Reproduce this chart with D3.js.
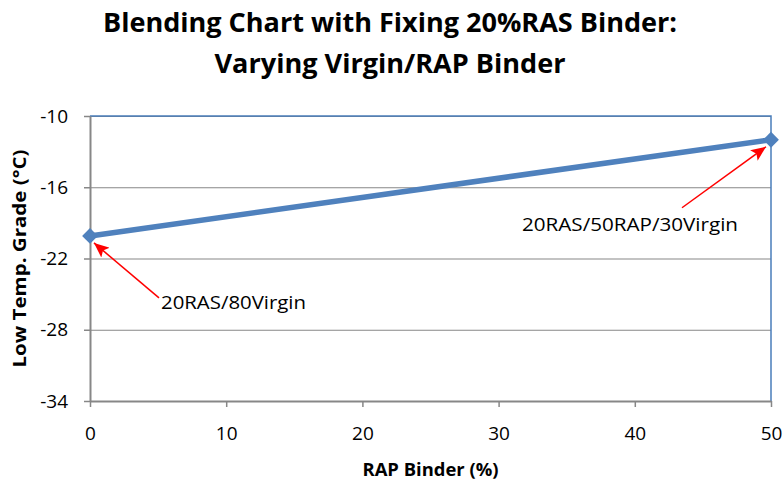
<!DOCTYPE html>
<html>
<head>
<meta charset="utf-8">
<script src="https://cdn.jsdelivr.net/npm/d3@7"></script>
<style>
  body { margin: 0; background: #fff; }
  text { font-family: "Open Sans", sans-serif; fill: #000; }
</style>
</head>
<body>
<div class="container"></div>
<script>
var w = 784;
var h = 487;

// data
var rapBinder = [0, 50];
var lowTempGrade = [-20.1, -12.0];
var xTicks = [0, 10, 20, 30, 40, 50];
var yTicks = [-34, -28, -22, -16, -10];
var titleLines = ["Blending Chart with Fixing 20%RAS Binder:", "Varying Virgin/RAP Binder"];
var xTitle = "RAP Binder (%)";
var yTitle = "Low Temp. Grade (°C)";
var pointLabels = ["20RAS/80Virgin", "20RAS/50RAP/30Virgin"];

var plotL = 90, plotR = 771, plotT = 116, plotB = 401;

var canvas = d3.select(".container").append("svg")
  .attr("width", w)
  .attr("height", h);

var x = d3.scaleLinear().domain([0, 50]).range([plotL, plotR]);
var y = d3.scaleLinear().domain([-34, -10]).range([plotB, plotT]);

// fit text to a measured width
function fit(sel, len) {
  sel.attr("textLength", len).attr("lengthAdjust", "spacingAndGlyphs");
}

// title
var titleWidths = [574, 351];
var titleBase = [32, 72.5];
titleLines.forEach(function (t, i) {
  canvas.append("text")
    .attr("x", 390).attr("y", titleBase[i])
    .attr("text-anchor", "middle")
    .style("font-size", "27px").style("font-weight", "bold")
    .text(t)
    .call(fit, titleWidths[i]);
});

// gridlines
canvas.append("g")
  .attr("transform", "translate(" + plotL + ",0)")
  .call(d3.axisLeft(y).tickValues(yTicks).tickSize(-(plotR - plotL)).tickFormat(""))
  .call(function (g) {
    g.select(".domain").remove();
    g.selectAll("line").attr("stroke", "#878787").attr("stroke-width", 1.2);
  });

// plot border (top/right blue)
canvas.append("path")
  .attr("d", "M" + plotL + "," + plotT + "H" + plotR + "V" + plotB)
  .attr("fill", "none")
  .attr("stroke", "#4a7ebb")
  .attr("stroke-width", 1.5);

// y axis (plain hyphen like the original, not d3's minus sign)
canvas.append("g")
  .attr("transform", "translate(" + plotL + ",0)")
  .call(d3.axisLeft(y).tickValues(yTicks).tickFormat(function (d) { return String(d); })
    .tickSize(6).tickPadding(16).tickSizeOuter(0))
  .call(function (g) {
    g.select(".domain").attr("stroke", "#878787").attr("stroke-width", 2);
    g.selectAll("line").attr("stroke", "#878787").attr("stroke-width", 1.5);
    g.selectAll("text").style("font-size", "19px").style("font-family", "'Open Sans', sans-serif").attr("fill", "#000");
  });

// x axis
canvas.append("g")
  .attr("transform", "translate(0," + plotB + ")")
  .call(d3.axisBottom(x).tickValues(xTicks).tickFormat(function (d) { return String(d); })
    .tickSize(6).tickSizeOuter(0))
  .call(function (g) {
    g.select(".domain").attr("stroke", "#878787").attr("stroke-width", 2);
    g.selectAll("line").attr("stroke", "#878787").attr("stroke-width", 1.5);
    g.selectAll("text").attr("dy", null).attr("y", 39)
      .style("font-size", "19px").style("font-family", "'Open Sans', sans-serif").attr("fill", "#000");
  });

// axis titles
canvas.append("text")
  .attr("x", (plotL + plotR) / 2).attr("y", 476)
  .attr("text-anchor", "middle")
  .style("font-size", "18px").style("font-weight", "bold")
  .text(xTitle)
  .call(fit, 136);

canvas.append("text")
  .attr("transform", "translate(26," + (plotT + plotB) / 2 + ") rotate(-90)")
  .attr("text-anchor", "middle")
  .style("font-size", "18px").style("font-weight", "bold")
  .text(yTitle)
  .call(fit, 218);

// series
var pts = rapBinder.map(function (d, i) { return [d, lowTempGrade[i]]; });

canvas.append("path")
  .datum(pts)
  .attr("fill", "none")
  .attr("stroke", "#4f81bd")
  .attr("stroke-width", 5.5)
  .attr("d", d3.line().x(function (d) { return x(d[0]); }).y(function (d) { return y(d[1]); }));

canvas.selectAll(".marker").data(pts).enter().append("path")
  .attr("class", "marker")
  .attr("d", d3.symbol(d3.symbolSquare).size(125))
  .attr("fill", "#4f81bd")
  .attr("transform", function (d) { return "translate(" + x(d[0]) + "," + y(d[1]) + ") rotate(45)"; });

// annotations with red arrows
canvas.append("defs").append("marker")
  .attr("id", "head")
  .attr("markerUnits", "userSpaceOnUse")
  .attr("viewBox", "0 0 14 12")
  .attr("markerWidth", 15).attr("markerHeight", 13)
  .attr("refX", 14).attr("refY", 6)
  .attr("orient", "auto")
  .append("path").attr("d", "M0,0L14,6L0,12L3,6Z").attr("fill", "#ff0000");

// offsets from each point: arrow start, arrow tip, text start
var arrowFrom = [[69, 62], [-89, 68]];
var arrowTip = [[4, 7], [-5, 7]];
var labelAt = [[71, 73], [-249, 91]];
var labelWidths = [145, 216];

pts.forEach(function (d, i) {
  var px = x(d[0]), py = y(d[1]);
  canvas.append("line")
    .attr("x1", px + arrowFrom[i][0]).attr("y1", py + arrowFrom[i][1])
    .attr("x2", px + arrowTip[i][0]).attr("y2", py + arrowTip[i][1])
    .attr("stroke", "#ff0000")
    .attr("stroke-width", 1.5)
    .attr("marker-end", "url(#head)");
  canvas.append("text")
    .attr("x", px + labelAt[i][0]).attr("y", py + labelAt[i][1])
    .style("font-size", "19px")
    .text(pointLabels[i])
    .call(fit, labelWidths[i]);
});
</script>
</body>
</html>
